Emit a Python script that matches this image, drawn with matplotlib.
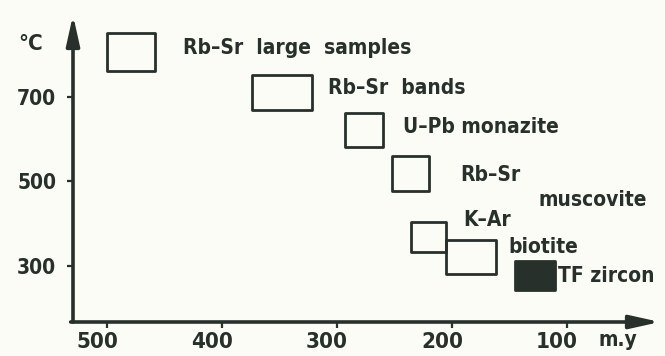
import matplotlib

matplotlib.use('Agg')
import matplotlib.pyplot as plt
from matplotlib.patches import Rectangle
from matplotlib.transforms import blended_transform_factory, ScaledTranslation

# closure ages (Ma) and temperatures (deg C) of the dated systems
systems = ['Rb–Sr large samples', 'Rb–Sr bands', 'U–Pb monazite', 'Rb–Sr muscovite',
           'K–Ar', 'biotite', 'TF zircon']
age_old = [500, 374, 293, 252, 236, 205, 145]
age_young = [458, 322, 260, 220, 205, 162, 110]
temp_low = [762, 670, 582, 477, 333, 280, 243]
temp_high = [851, 752, 662, 560, 404, 362, 312]
filled = [False, False, False, False, False, False, True]

label_text = ['Rb–Sr  large  samples', 'Rb–Sr  bands', 'U–Pb monazite', 'Rb–Sr',
              'muscovite', 'K–Ar', 'biotite', 'TF zircon']
label_x = [434, 308, 243, 193, 125, 190, 151, 108]
label_y = [816, 721, 629, 515, 456, 409, 345, 276]

x_ticks = [500, 400, 300, 200, 100]
y_ticks = [300, 500, 700]

ink = '#27302b'
paper = '#fcfcf7'

plt.rcParams['font.family'] = 'DejaVu Sans'
plt.rcParams['font.stretch'] = 'condensed'
plt.rcParams['font.weight'] = 'bold'

fig = plt.figure(figsize=(6.65, 3.56), dpi=100, facecolor=paper)
ax = fig.add_axes([73 / 665, 34 / 356, 587 / 665, 307 / 356])
ax.set_facecolor(paper)
ax.set_xlim(529.6, 19.1)
ax.set_ylim(167.5, 894)

for s in ax.spines.values():
    s.set_visible(False)

# axes drawn as arrows
arrow = dict(arrowstyle='-|>,head_length=1.8,head_width=0.4', lw=2.6, color=ink,
             shrinkA=0, shrinkB=0)
ax.annotate('', xy=(0, 1), xytext=(0, 0), xycoords='axes fraction',
            arrowprops=arrow, annotation_clip=False)
ax.annotate('', xy=(1, 0), xytext=(-0.004, 0), xycoords='axes fraction',
            arrowprops=arrow, annotation_clip=False)

ax.set_xticks(x_ticks)
ax.set_yticks(y_ticks)
ax.tick_params(axis='both', direction='out', length=4, width=1.6, color=ink,
               labelcolor=ink, labelsize=15)
ax.tick_params(axis='y', pad=8)
ax.tick_params(axis='x', pad=3, labelsize=16)
# x labels sit a little left of their ticks
shift = ScaledTranslation(-10 / 100, 0, fig.dpi_scale_trans)
for lab in ax.get_xticklabels():
    lab.set_transform(lab.get_transform() + shift)

for a0, a1, t0, t1, f in zip(age_old, age_young, temp_low, temp_high, filled):
    ax.add_patch(Rectangle((a1, t0), a0 - a1, t1 - t0, lw=2.0, edgecolor=ink,
                           facecolor=ink if f else 'none', joinstyle='round'))

for txt, x, y in zip(label_text, label_x, label_y):
    ax.text(x, y, txt, fontsize=15, color=ink, ha='left', va='center')

trans = blended_transform_factory(ax.transData, ax.transAxes)
ax.text(73, -0.025, 'm.y', transform=trans, fontsize=15, color=ink, ha='left', va='top')
fig.text(18 / 665, 1 - 44 / 356, '°C', fontsize=16, color=ink, ha='left', va='center')

fig.savefig('out.png', dpi=100, facecolor=paper)
